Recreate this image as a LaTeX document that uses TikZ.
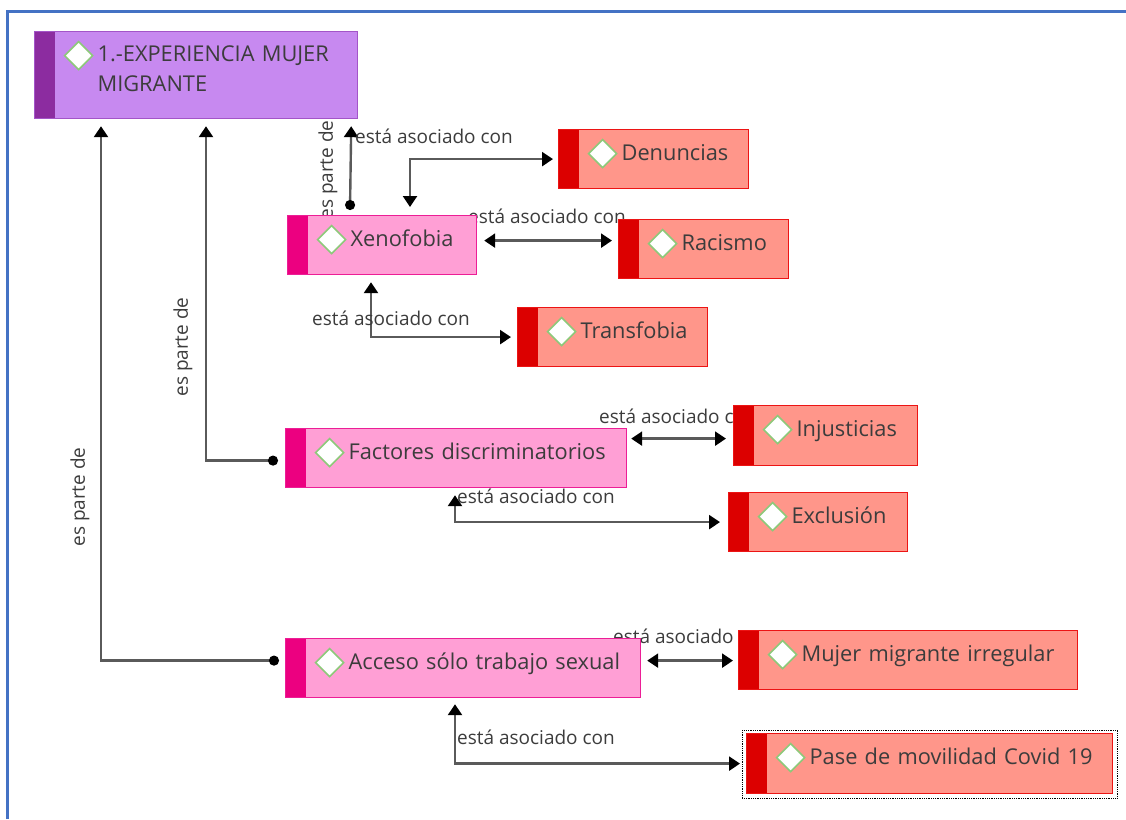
\documentclass[tikz,border=0pt]{standalone}
\usepackage{fontspec}
\setmainfont{Open Sans}
\usepackage{xcolor}
\definecolor{mainfill}{RGB}{199,137,240}
\definecolor{mainstrip}{RGB}{140,44,160}
\definecolor{mainline}{RGB}{163,85,200}
\definecolor{pinkfill}{RGB}{255,159,213}
\definecolor{pinkstrip}{RGB}{236,0,128}
\definecolor{pinkline}{RGB}{236,30,150}
\definecolor{redfill}{RGB}{255,150,138}
\definecolor{redstrip}{RGB}{220,0,0}
\definecolor{redline}{RGB}{236,20,20}
\definecolor{markgreen}{RGB}{141,201,122}
\definecolor{textgray}{RGB}{60,60,60}
\definecolor{linkgray}{RGB}{90,90,90}
\definecolor{frameblue}{RGB}{68,114,196}
\usepackage{tikz}
\usetikzlibrary{positioning,backgrounds,calc}
\usetikzlibrary{arrows.meta}
\newcommand{\nodefont}{\fontsize{21.8}{30}\selectfont}
\newcommand{\linkfont}{\fontsize{19}{22}\selectfont}
\tikzset{
  stripcol/.store in=\stripcol, stripcol=black,
  concept/.style={ rectangle, anchor=north west, line width=1.2pt, inner sep=0pt,
                   text height=31pt, text depth=28pt, align=left, font=\nodefont, text=textgray,
                   execute at begin node={\leftskip=63pt},
                   path picture={
                     \fill[\stripcol] (path picture bounding box.north west) rectangle
                       ([xshift=20pt]path picture bounding box.south west);
                     \draw[marker] ([xshift=44pt,yshift=-24pt]path picture bounding box.north west)
                       +(-14pt,0pt) -- +(0pt,14pt) -- +(14pt,0pt) -- +(0pt,-14pt) -- cycle;
                   } },
  marker/.style={ draw=markgreen, fill=white, line width=1.6pt },
  mainbox/.style={ concept, fill=mainfill, draw=mainline, stripcol=mainstrip },
  pinkbox/.style={ concept, fill=pinkfill, draw=pinkline, stripcol=pinkstrip },
  redbox/.style ={ concept, fill=redfill,  draw=redline,  stripcol=redstrip },
%
  partof/.style={ {Circle[length=10pt,color=black]}-{Triangle[width=14pt,length=11pt,color=black]},
                  draw=linkgray, line width=2.4pt },
  assoc/.style ={ {Triangle[width=14pt,length=11pt,color=black]}-{Triangle[width=14pt,length=11pt,color=black]},
                  draw=linkgray, line width=2.4pt },
  linklabel/.style={ font=\linkfont, text=textgray, inner sep=0pt },
%
  frame/.style={ draw=frameblue, line width=3pt }
}

\begin{document}
\begin{tikzpicture}[x=1pt,y=-1pt]
\useasboundingbox (0,0) rectangle (1126,819);
\draw[frame] (7,819) -- (7,11) -- (1126,11);

\node[mainbox, text width=323pt, text height=30pt, text depth=57pt] (main) at (34,31) {1.-EXPERIENCIA MUJER\\MIGRANTE};

\node[pinkbox, text width=189pt] (xeno)  at (287,215) {Xenofobia};
\node[pinkbox, text width=341pt] (fact)  at (285,428) {Factores discriminatorios};
\node[pinkbox, text width=355pt] (acc)   at (285,638) {Acceso sólo trabajo sexual};

\node[redbox, text width=190pt] (den)   at (558,129) {Denuncias};
\node[redbox, text width=170pt] (rac)   at (618,219) {Racismo};
\node[redbox, text width=190pt] (trans) at (517,307) {Transfobia};
\node[redbox, text width=184pt, text depth=29pt] (inj) at (733,405) {Injusticias};
\node[redbox, text width=179pt] (excl)  at (728,492) {Exclusión};
\node[redbox, text width=339pt] (mujer) at (738,630) {Mujer migrante irregular};
\node[redbox, text width=366pt, text depth=29pt] (pase) at (746,733) {Pase de movilidad Covid 19};

\draw[black, densely dotted, line width=0.8pt] ([shift={(-4pt,3pt)}]pase.north west) rectangle ([shift={(4pt,-4pt)}]pase.south east);

\begin{scope}[on background layer]
% es parte de
\draw[partof] ([xshift=63pt,yshift=5pt]xeno.north west) -- ([xshift=-7pt,yshift=-7pt]main.south east);
\draw[partof] ([xshift=-7pt,yshift=-2.5pt]fact.west) -| ([xshift=172pt,yshift=-7pt]main.south west);
\draw[partof] ([xshift=-6pt,yshift=7.5pt]acc.west) -| ([xshift=67pt,yshift=-7pt]main.south west);

\node[linklabel, rotate=90] (p1) at (328,170) {es parte de};
\node[linklabel, rotate=90] (p2) at (183,347) {es parte de};
\node[linklabel, rotate=90] (p3) at (80,497)  {es parte de};

% esta asociado con
\draw[assoc] ([xshift=123pt,yshift=8pt]xeno.north west) |- ([xshift=-5pt]den.west);
\draw[assoc] ([xshift=7pt,yshift=4.5pt]xeno.east) -- ([xshift=-6pt,yshift=8.5pt]rac.west);
\draw[assoc] ([xshift=84pt,yshift=-7pt]xeno.south west) |- ([xshift=-6pt]trans.west);
\draw[assoc] ([xshift=4pt,yshift=19.5pt]fact.east) -- ([xshift=-7pt,yshift=-3pt]inj.west);
\draw[assoc] ([xshift=170pt,yshift=-7pt]fact.south west) |- ([xshift=-8pt]excl.west);
\draw[assoc] ([xshift=6pt,yshift=7.5pt]acc.east) -- ([xshift=-5pt,yshift=-0.5pt]mujer.west);
\draw[assoc] ([xshift=170pt,yshift=-6pt]acc.south west) |- ([xshift=-6pt]pase.west);

\node[linklabel] (a1) at (434,136) {está asociado con};
\node[linklabel] (a2) at (547,216) {está asociado con};
\node[linklabel] (a3) at (391,318) {está asociado con};
\node[linklabel] (a4) at (678,416) {está asociado con};
\node[linklabel] (a5) at (536,496) {está asociado con};
\node[linklabel] (a6) at (692,636) {está asociado con};
\node[linklabel] (a7) at (536,737) {está asociado con};
\end{scope}

\end{tikzpicture}
\end{document}
